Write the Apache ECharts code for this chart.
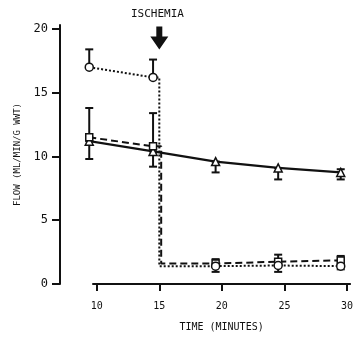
<!DOCTYPE html>
<html><head><meta charset="utf-8">
<script src="https://cdn.jsdelivr.net/npm/echarts@6/dist/echarts.min.js"></script>
<style>html,body{margin:0;padding:0;background:#fff}#c{width:356px;height:337px}</style>
</head><body><div id="c"></div>
<script>
// Measurement times (minutes)
var times = [9.4, 14.5, 19.5, 24.5, 29.5];
var ischemiaTime = 15.0;
// Dotted series (open circles)
var circleY  = [17.0, 16.2, 1.4, 1.45, 1.4];
var circleHi = [18.4, 17.6, 1.4, 1.45, 1.4];
var circleLo = [17.0, 16.2, 0.95, 0.95, 1.15];
var circleDropX = 15.0;
// Dashed series (open squares)
var squareY  = [11.5, 10.8, 1.6, 1.75, 1.85];
var squareHi = [13.8, 13.4, 1.95, 2.3, 2.2];
var squareLo = [11.5, 10.8, 1.6, 1.75, 1.85];
var squareDropX = 15.15;
// Solid series (open triangles)
var triY  = [11.2, 10.4, 9.6, 9.1, 8.75];
var triHi = [11.2, 10.4, 9.6, 9.1, 9.0];
var triLo = [9.8, 9.2, 8.75, 8.2, 8.2];
// Tick labels
var xTicks = [10, 15, 20, 25, 30];
var yTicks = [0, 5, 10, 15, 20];

var FONT = 'DejaVu Sans Mono';
var INK = '#111';

function dropLine(ys, dropX) {
  var d = [];
  d.push({value: [times[0], ys[0]]});
  d.push({value: [times[1], ys[1]]});
  d.push({value: [dropX, ys[1]], symbol: 'none'});
  d.push({value: [dropX, ys[2]], symbol: 'none'});
  for (var i = 2; i < times.length; i++) d.push({value: [times[i], ys[i]]});
  return d;
}
function plain(ys) { return times.map(function (t, i) { return [t, ys[i]]; }); }
function errData(lo, hi) { return times.map(function (t, i) { return [t, lo[i], hi[i]]; }); }
function errSeries(lo, hi) {
  return {
    type: 'custom', clip: false, z: 1,
    data: errData(lo, hi),
    renderItem: function (params, api) {
      var x = api.value(0);
      var a = api.coord([x, api.value(1)]);
      var b = api.coord([x, api.value(2)]);
      var w = 4;
      var st = {stroke: INK, lineWidth: 2};
      var ch = [];
      if (Math.abs(a[1] - b[1]) < 0.5) return {type: 'group', children: []};
      ch.push({type: 'line', shape: {x1: a[0], y1: a[1], x2: b[0], y2: b[1]}, style: st});
      ch.push({type: 'line', shape: {x1: a[0] - w, y1: a[1], x2: a[0] + w, y2: a[1]}, style: st});
      ch.push({type: 'line', shape: {x1: b[0] - w, y1: b[1], x2: b[0] + w, y2: b[1]}, style: st});
      return {type: 'group', children: ch};
    }
  };
}

var chart = echarts.init(document.getElementById('c'), null, {renderer: 'canvas'});
chart.setOption({
  animation: false,
  backgroundColor: '#fff',
  grid: {left: 93, right: 0, top: 25, bottom: 52},
  xAxis: {
    type: 'value', min: 9.7, max: 30.25,
    splitLine: {show: false},
    axisLine: {lineStyle: {color: INK, width: 2}},
    axisTick: {customValues: xTicks, length: 7, lineStyle: {color: INK, width: 2}},
    axisLabel: {customValues: xTicks, margin: 17, color: INK, fontFamily: FONT, fontSize: 10},
    name: 'TIME (MINUTES)', nameLocation: 'middle', nameGap: 38,
    nameTextStyle: {color: INK, fontFamily: FONT, fontSize: 10}
  },
  yAxis: {
    type: 'value', min: 0, max: 20.31, offset: 33,
    splitLine: {show: false},
    axisLine: {show: true, lineStyle: {color: INK, width: 2}},
    axisTick: {show: true, customValues: yTicks, length: 8, lineStyle: {color: INK, width: 2}},
    axisLabel: {customValues: yTicks, margin: 12, color: INK, fontFamily: FONT, fontSize: 12},
    name: 'FLOW (ML/MIN/G WWT)', nameLocation: 'middle', nameGap: 36, nameRotate: 90,
    nameTextStyle: {color: INK, fontFamily: FONT, fontSize: 9}
  },
  graphic: [{
    type: 'text', left: 131, top: 9,
    style: {text: 'ISCHEMIA', fill: INK, font: '11px "DejaVu Sans Mono"'}
  }],
  series: [
    errSeries(circleLo, circleHi),
    errSeries(squareLo, squareHi),
    errSeries(triLo, triHi),
    {
      type: 'line', clip: false, z: 3, data: plain(triY),
      symbol: 'triangle', symbolSize: 8,
      itemStyle: {color: '#fff', borderColor: INK, borderWidth: 1.5},
      lineStyle: {color: INK, width: 2.2}
    },
    {
      type: 'line', clip: false, z: 4, data: dropLine(squareY, squareDropX),
      symbol: 'rect', symbolSize: 7,
      itemStyle: {color: '#fff', borderColor: INK, borderWidth: 1.5},
      lineStyle: {color: INK, width: 2, type: [7, 4]}
    },
    {
      type: 'line', clip: false, z: 5, data: dropLine(circleY, circleDropX),
      symbol: 'circle', symbolSize: 8,
      itemStyle: {color: '#fff', borderColor: INK, borderWidth: 1.5},
      lineStyle: {color: INK, width: 2, type: [2, 2]},
      markPoint: {
        silent: true,
        data: [{coord: [ischemiaTime, 19.3]}],
        symbol: 'path://M6,0 L12,0 L12,10 L18,10 L9,23 L0,10 L6,10 Z',
        symbolSize: [18, 23],
        itemStyle: {color: INK, borderWidth: 0},
        label: {show: false}
      }
    }
  ]
});
</script></body></html>
